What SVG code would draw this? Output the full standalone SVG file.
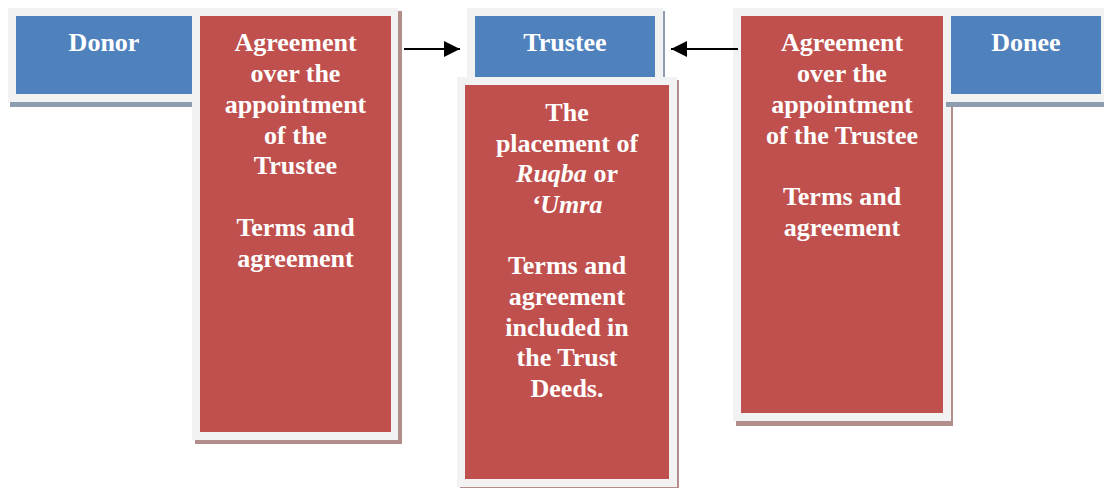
<svg xmlns="http://www.w3.org/2000/svg" width="1104" height="488" viewBox="0 0 1104 488">
<style>
.frame{fill:#f2f2f2}
.blue{fill:#4f81bd}
.red{fill:#c0504d}
.shb{fill:#8e9cb0}
.shr{fill:#b38c8c}
text{font-family:"Liberation Serif","Times New Roman",serif;font-weight:bold;font-size:26px;fill:#ffffff;text-anchor:middle}
.it{font-style:italic}
.conn{stroke:#000;stroke-width:2.2;fill:none}
</style>
<defs>
<marker id="ah" markerWidth="16" markerHeight="16" refX="16" refY="8" orient="auto" markerUnits="userSpaceOnUse">
<path d="M0,0 L16,8 L0,16 Z" fill="#000"/>
</marker>
</defs>
<rect width="1104" height="488" fill="#ffffff"/>

<g id="donor">
<rect class="shb" x="10" y="102" width="182" height="5"/>
<rect class="frame" x="8" y="8" width="184" height="94"/>
<rect class="blue" x="16" y="16" width="176" height="78"/>
<text x="104" y="51">Donor</text>
</g>

<g id="agreement-left">
<rect class="shr" x="195" y="11" width="207" height="433"/>
<rect class="frame" x="192" y="8" width="206" height="432"/>
<rect class="red" x="200" y="16" width="191" height="416"/>
<text x="295.5" y="51">Agreement</text>
<text x="295.5" y="82">over the</text>
<text x="295.5" y="113">appointment</text>
<text x="295.5" y="144">of the</text>
<text x="295.5" y="174">Trustee</text>
<text x="295.5" y="236">Terms and</text>
<text x="295.5" y="267">agreement</text>
</g>

<g id="trustee">
<rect class="shb" x="470" y="11" width="195" height="70"/>
<rect class="frame" x="467" y="8" width="196" height="72"/>
<rect class="blue" x="475" y="16" width="180" height="64"/>
<text x="565" y="51">Trustee</text>
</g>

<g id="placement">
<rect class="shr" x="460" y="80" width="219" height="409"/>
<rect class="frame" x="457" y="77" width="220" height="410"/>
<rect class="red" x="465" y="85" width="204" height="394"/>
<text x="567" y="121">The</text>
<text x="567" y="152">placement of</text>
<text x="567" y="182"><tspan class="it">Ruqba</tspan> or</text>
<text x="567" y="213" class="it">‘Umra</text>
<text x="567" y="274">Terms and</text>
<text x="567" y="305">agreement</text>
<text x="567" y="336">included in</text>
<text x="567" y="366">the Trust</text>
<text x="567" y="397">Deeds.</text>
</g>

<g id="agreement-right">
<rect class="shr" x="736" y="11" width="217" height="415"/>
<rect class="frame" x="733" y="8" width="218" height="413"/>
<rect class="red" x="741" y="16" width="202" height="397"/>
<text x="842" y="51">Agreement</text>
<text x="842" y="82">over the</text>
<text x="842" y="113">appointment</text>
<text x="842" y="144">of the Trustee</text>
<text x="842" y="205">Terms and</text>
<text x="842" y="236">agreement</text>
</g>

<g id="donee">
<rect class="shb" x="946" y="102" width="158" height="5"/>
<rect class="frame" x="943" y="8" width="161" height="94"/>
<rect class="blue" x="951" y="16" width="150" height="78"/>
<text x="1026" y="51">Donee</text>
</g>

<g id="connectors">
<line class="conn" x1="404" y1="49" x2="460" y2="49" marker-end="url(#ah)"/>
<line class="conn" x1="738" y1="49" x2="671" y2="49" marker-end="url(#ah)"/>
</g>
</svg>
